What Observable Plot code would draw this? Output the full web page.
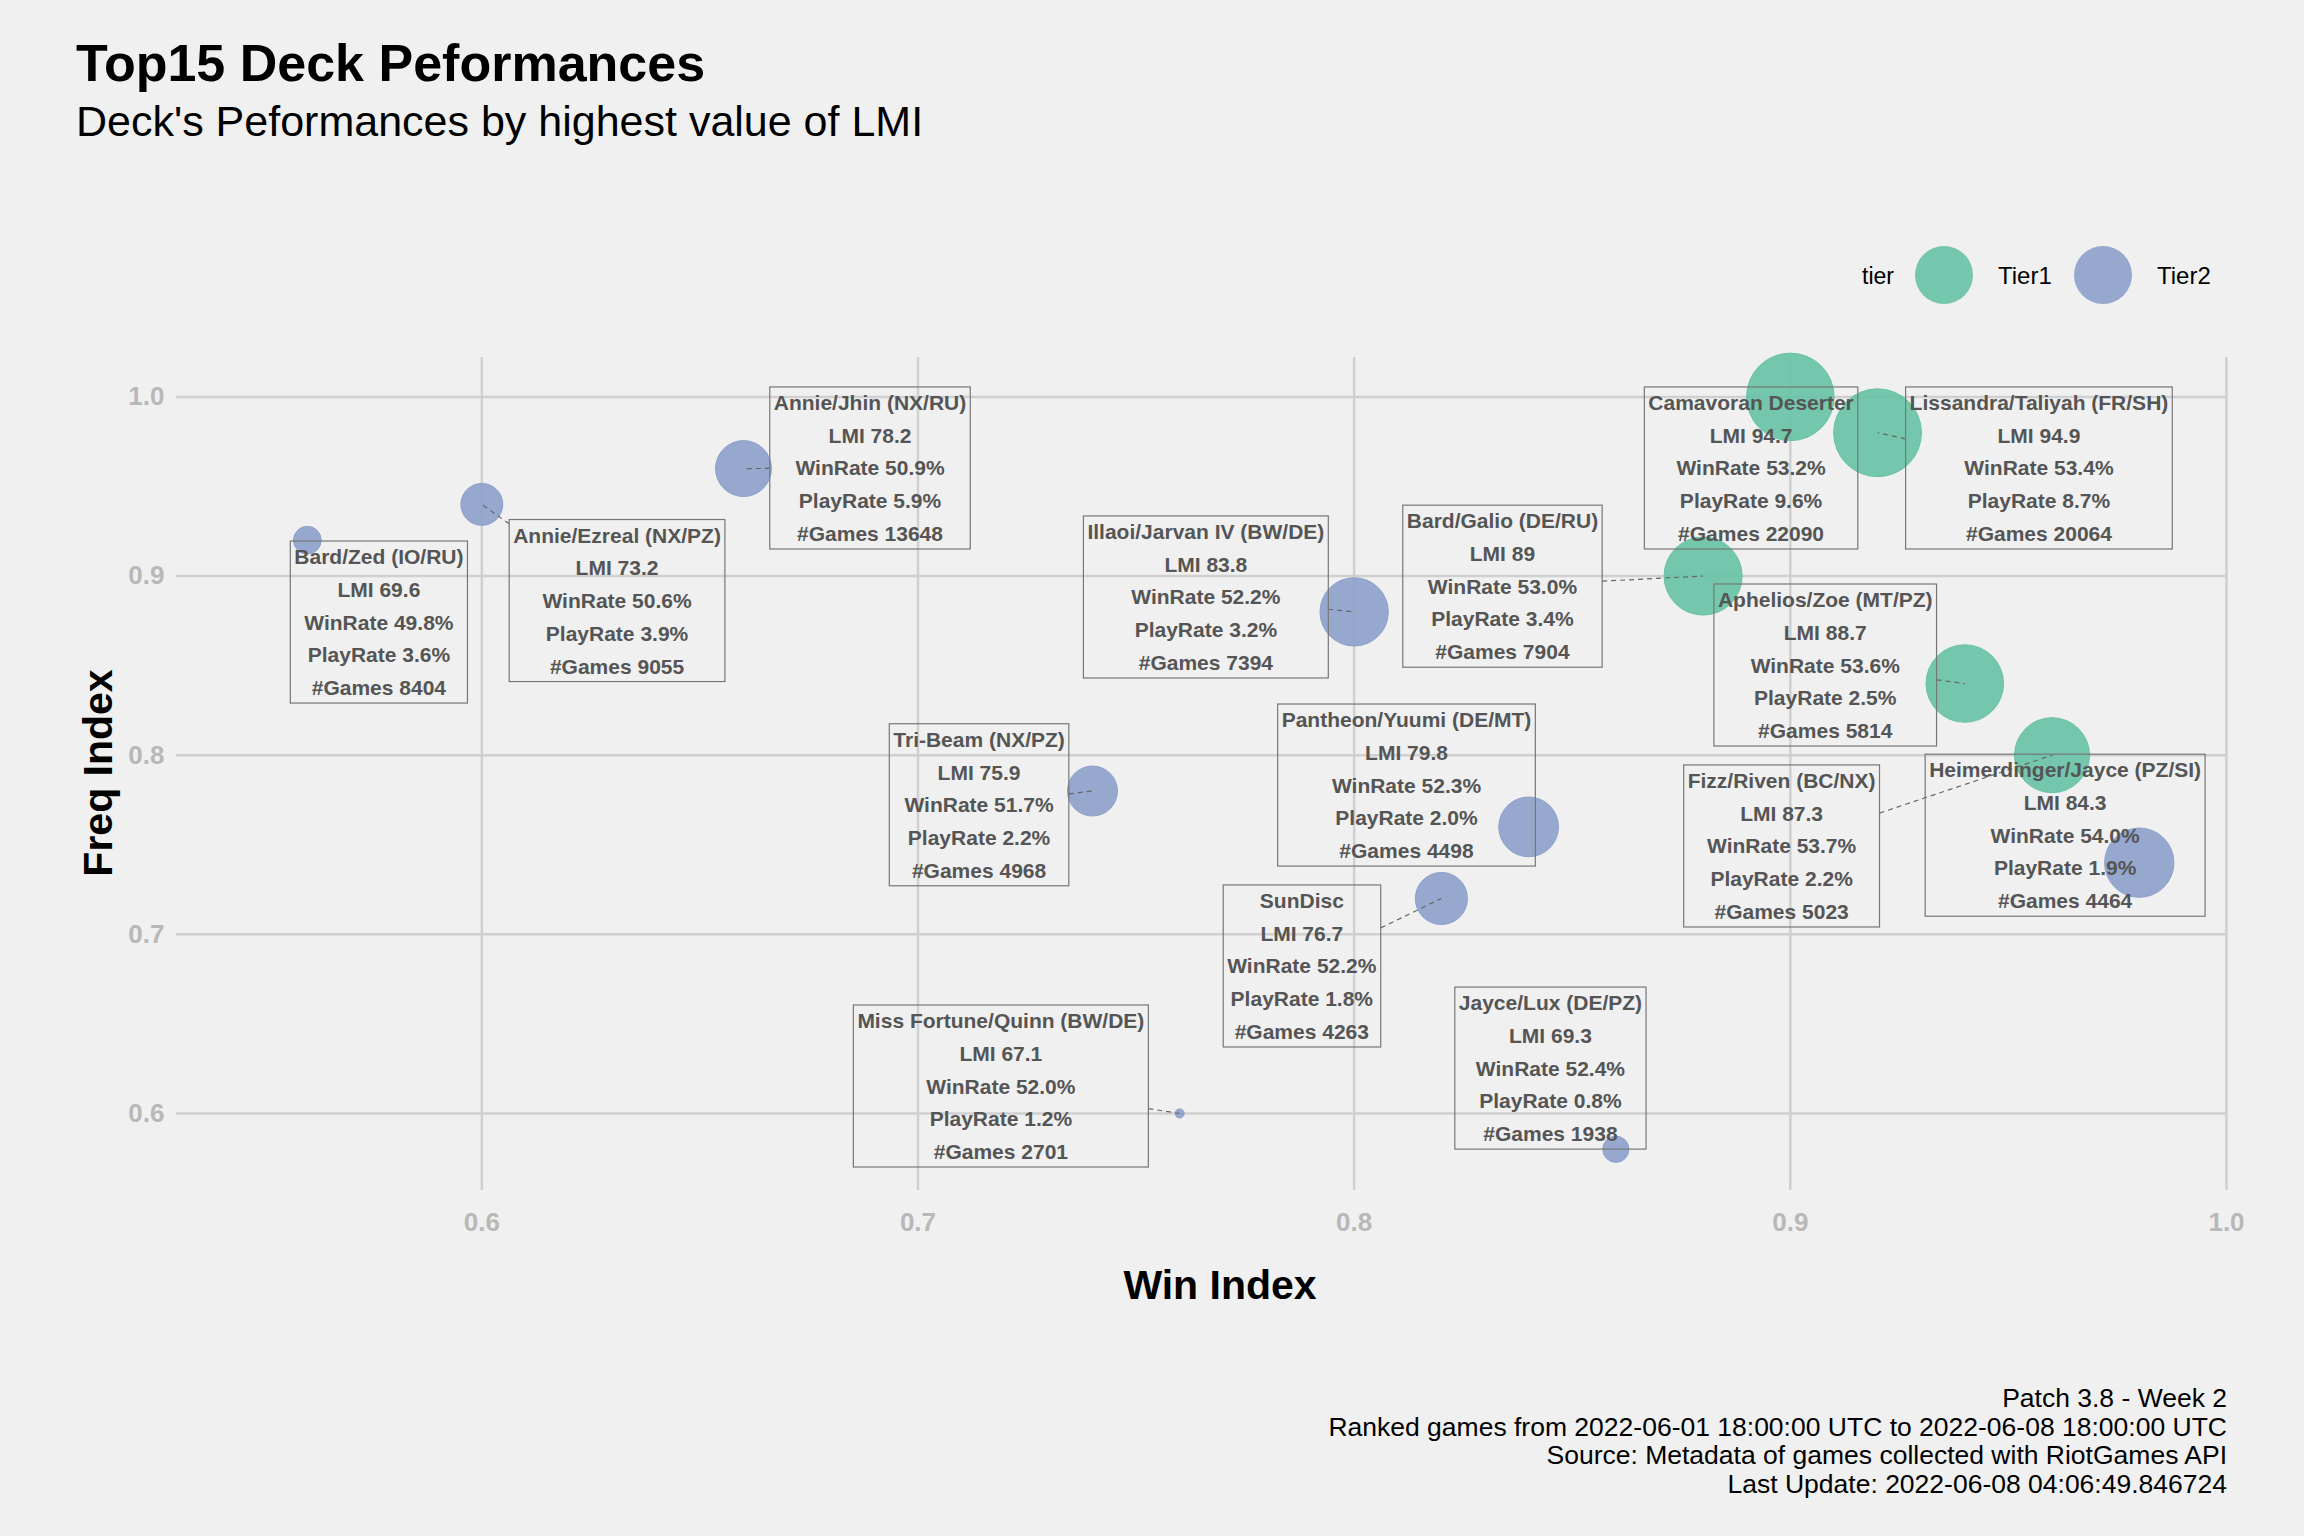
<!DOCTYPE html>
<html>
<head>
<meta charset="utf-8">
<script src="https://cdn.jsdelivr.net/npm/d3@7"></script>
<script src="https://cdn.jsdelivr.net/npm/@observablehq/plot@0.6"></script>
<style>
  body { margin: 0; background: #f0f0f0; font-family: Arial, "Liberation Sans", sans-serif; }
  #page { position: relative; width: 2304px; height: 1536px; background: #f0f0f0; overflow: hidden; }
  .abs { position: absolute; white-space: nowrap; }
</style>
</head>
<body>
<div id="page">
  <div class="abs" style="left:76px;top:33px;font-size:52px;font-weight:bold;">Top15 Deck Peformances</div>
  <div class="abs" style="left:76px;top:97px;font-size:43px;">Deck's Peformances by highest value of LMI</div>
  <div id="chart" class="abs" style="left:0;top:0;"></div>
  <div id="legend" class="abs" style="left:1850px;top:244px;"></div>
  <div class="abs" style="left:1220px;top:1262px;width:0;font-size:41px;font-weight:bold;"><span style="position:absolute;transform:translateX(-50%);">Win Index</span></div>
  <div class="abs" style="left:98px;top:773px;font-size:41px;font-weight:bold;transform:translate(-50%,-50%) rotate(-90deg);">Freq Index</div>
  <div class="abs" style="right:77px;top:1384px;font-size:26.5px;line-height:28.5px;text-align:right;">
    Patch 3.8 - Week 2<br>
    Ranked games from 2022-06-01 18:00:00 UTC to 2022-06-08 18:00:00 UTC<br>
    Source: Metadata of games collected with RiotGames API<br>
    Last Update: 2022-06-08 04:06:49.846724
  </div>
</div>
<script>
const decks = ["Camavoran Deserter", "Lissandra/Taliyah (FR/SH)", "Bard/Galio (DE/RU)", "Aphelios/Zoe (MT/PZ)",
  "Fizz/Riven (BC/NX)", "Heimerdinger/Jayce (PZ/SI)", "Illaoi/Jarvan IV (BW/DE)", "Pantheon/Yuumi (DE/MT)",
  "Annie/Jhin (NX/RU)", "SunDisc", "Tri-Beam (NX/PZ)", "Annie/Ezreal (NX/PZ)", "Bard/Zed (IO/RU)",
  "Jayce/Lux (DE/PZ)", "Miss Fortune/Quinn (BW/DE)"];
const tiers = ["Tier1", "Tier1", "Tier1", "Tier1", "Tier1", "Tier2", "Tier2", "Tier2", "Tier2", "Tier2", "Tier2", "Tier2", "Tier2", "Tier2", "Tier2"];
const winIndex = [0.90, 0.92, 0.88, 0.94, 0.96, 0.98, 0.80, 0.84, 0.66, 0.82, 0.74, 0.60, 0.56, 0.86, 0.76];
const freqIndex = [1.00, 0.98, 0.90, 0.84, 0.80, 0.74, 0.88, 0.76, 0.96, 0.72, 0.78, 0.94, 0.92, 0.58, 0.60];
const lmi = [94.7, 94.9, 89, 88.7, 87.3, 84.3, 83.8, 79.8, 78.2, 76.7, 75.9, 73.2, 69.6, 69.3, 67.1];
const winRate = ["53.2", "53.4", "53.0", "53.6", "53.7", "54.0", "52.2", "52.3", "50.9", "52.2", "51.7", "50.6", "49.8", "52.4", "52.0"];
const playRate = ["9.6", "8.7", "3.4", "2.5", "2.2", "1.9", "3.2", "2.0", "5.9", "1.8", "2.2", "3.9", "3.6", "0.8", "1.2"];
const games = [22090, 20064, 7904, 5814, 5023, 4464, 7394, 4498, 13648, 4263, 4968, 9055, 8404, 1938, 2701];
// repelled label anchors, in data units
const labelX = [0.891, 0.957, 0.834, 0.908, 0.898, 0.963, 0.766, 0.812, 0.689, 0.788, 0.714, 0.631, 0.5764, 0.845, 0.719];
const labelY = [0.962, 0.962, 0.896, 0.852, 0.751, 0.757, 0.890, 0.785, 0.962, 0.684, 0.774, 0.888, 0.876, 0.627, 0.617];

const data = decks.map((d, i) => ({
  deck: d, tier: tiers[i], x: winIndex[i], y: freqIndex[i], lmi: lmi[i],
  lx: labelX[i], ly: labelY[i],
  label: `${d}\nLMI ${lmi[i]}\nWinRate ${winRate[i]}%\nPlayRate ${playRate[i]}%\n#Games ${games[i]}`
}));

const tierColors = { domain: ["Tier1", "Tier2"], range: ["#66c2a5", "#8da0cb"] };

const plot = Plot.plot({
  width: 2304, height: 1536,
  marginLeft: 176, marginRight: 78, marginTop: 357, marginBottom: 346,
  style: { background: "transparent", fontFamily: "Arial, 'Liberation Sans', sans-serif" },
  x: { domain: [0.53, 1.0], ticks: [0.6, 0.7, 0.8, 0.9, 1.0], tickFormat: d3.format(".1f"), label: null, tickSize: 0, tickPadding: 22 },
  y: { domain: [0.557, 1.022], ticks: [0.6, 0.7, 0.8, 0.9, 1.0], tickFormat: d3.format(".1f"), label: null, tickSize: 0, tickPadding: 12 },
  r: { type: "sqrt", domain: [0, 28.2], range: [0, 44] },
  color: tierColors,
  marks: [
    Plot.gridX({ ticks: [0.6, 0.7, 0.8, 0.9, 1.0], stroke: "#d0d0d0", strokeOpacity: 1, strokeWidth: 2.5 }),
    Plot.gridY({ ticks: [0.6, 0.7, 0.8, 0.9, 1.0], stroke: "#d0d0d0", strokeOpacity: 1, strokeWidth: 2.5 }),
    Plot.dot(data, { x: "x", y: "y", r: d => d.lmi - 66.8, fill: "tier", fillOpacity: 0.9, stroke: "tier", strokeWidth: 1 }),
    Plot.text(data, { x: "lx", y: "ly", text: "label", fill: "#555555", fontWeight: "bold", fontSize: 21, lineHeight: 1.56, lineAnchor: "middle" })
  ]
});
plot.querySelectorAll("[aria-label$='tick label']").forEach(g => {
  g.setAttribute("font-size", 26); g.setAttribute("font-weight", "bold"); g.setAttribute("fill", "#b8b8b8");
});
document.getElementById("chart").append(plot);

// boxes around labels and dashed links to their points
const sx = plot.scale("x"), sy = plot.scale("y");
const texts = plot.querySelectorAll("g[aria-label='text'] text");
const ns = "http://www.w3.org/2000/svg";
texts.forEach((t, i) => {
  const b = t.getBBox();
  const m = t.transform.baseVal.consolidate();
  const ox = m ? m.matrix.e : 0, oy = m ? m.matrix.f : 0;
  const pad = 4;
  const x0 = b.x - pad + ox, y0 = b.y - pad + oy, w = b.width + 2 * pad, h = b.height + 2 * pad;
  const rect = document.createElementNS(ns, "rect");
  rect.setAttribute("x", x0); rect.setAttribute("y", y0);
  rect.setAttribute("width", w); rect.setAttribute("height", h);
  rect.setAttribute("fill", "none"); rect.setAttribute("stroke", "#777"); rect.setAttribute("stroke-width", 1.2);
  t.parentNode.insertBefore(rect, t);
  const px = sx.apply(data[i].x), py = sy.apply(data[i].y);
  const cx = x0 + w / 2, cy = y0 + h / 2;
  const dx = px - cx, dy = py - cy;
  const s = Math.min(Math.abs((w / 2) / (dx || 1e-9)), Math.abs((h / 2) / (dy || 1e-9)));
  if (s < 1) {
    const ex = cx + dx * s, ey = cy + dy * s;
    if (Math.hypot(px - ex, py - ey) > 12) {
      const line = document.createElementNS(ns, "line");
      line.setAttribute("x1", ex); line.setAttribute("y1", ey);
      line.setAttribute("x2", px); line.setAttribute("y2", py);
      line.setAttribute("stroke", "#666"); line.setAttribute("stroke-width", 1.2);
      line.setAttribute("stroke-dasharray", "5,4");
      t.parentNode.insertBefore(line, rect);
    }
  }
});

// legend
const leg = d3.select("#legend").append("svg").attr("width", 380).attr("height", 64);
leg.append("text").attr("x", 28).attr("y", 40).attr("font-size", 23).attr("text-anchor", "middle").text("tier");
[["Tier1", 94, 148], ["Tier2", 253, 307]].forEach(([name, cx, tx]) => {
  leg.append("circle").attr("cx", cx).attr("cy", 31).attr("r", 29).attr("fill", tierColors.range[tierColors.domain.indexOf(name)]).attr("opacity", 0.9);
  leg.append("text").attr("x", tx).attr("y", 40).attr("font-size", 24).text(name);
});
</script>
</body>
</html>
